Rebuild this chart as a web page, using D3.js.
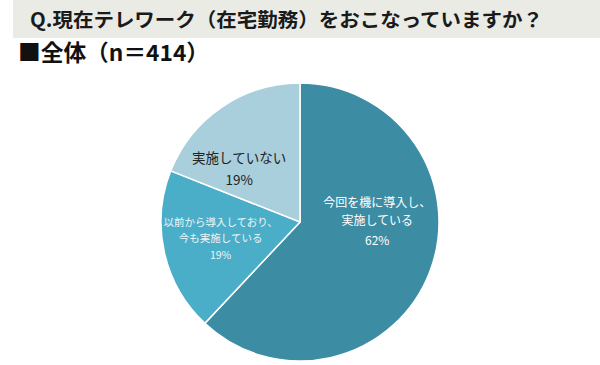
<!DOCTYPE html>
<html><head><meta charset="utf-8">
<script src="https://cdn.jsdelivr.net/npm/d3@7"></script>
<style>body{margin:0;background:#fff}svg{display:block}</style>
</head><body><svg id="c" width="600" height="365"></svg>
<script>
const title = "Q.現在テレワーク（在宅勤務）をおこなっていますか？";
const subtitle = "■全体（n＝414）";
const categories = ["今回を機に導入し、\n実施している", "以前から導入しており、\n今も実施している", "実施していない"];
const values = [62, 19, 19];
const colors = ["#3c8ca3", "#4baec8", "#a9cfdc"];

const svg = d3.select("#c");
const font = "'Noto Sans CJK JP','Noto Sans',sans-serif";
svg.append("rect").attr("x",13).attr("y",0).attr("width",587).attr("height",38).attr("fill","#ebebe6");
svg.append("text").attr("x",30).attr("y",27).attr("font-family",font).attr("font-weight","bold").attr("font-size",19.5)
  .attr("textLength",513).attr("lengthAdjust","spacingAndGlyphs").attr("fill","#1a1a1a").text(title);
svg.append("text").attr("x",18).attr("y",61).attr("font-family",font).attr("font-weight","bold").attr("font-size",22.5)
  .attr("textLength",191).attr("lengthAdjust","spacingAndGlyphs").attr("fill","#111").text(subtitle);

const cx = 300, cy = 222, r = 139;
const pie = d3.pie().sort(null).value(d=>d)(values);
const arc = d3.arc().innerRadius(0).outerRadius(r);
const g = svg.append("g").attr("transform",`translate(${cx},${cy})`);
g.selectAll("path").data(pie).join("path").attr("d",arc)
  .attr("fill",(d,i)=>colors[i]).attr("stroke","#fff").attr("stroke-width",1.5);

// label layout: radial factor, offsets, font size, line height, gap to percentage
const labelCfg = [
  {r:0.52, dx:10, dy:-27, size:12, fill:"#fff", lh:18, pctGap:20},
  {r:0.6, dx:2, dy:-1.5, size:10.5, fill:"#eef4f6", lh:16, pctGap:17},
  {r:0.6, dx:-14, dy:16, size:13.5, fill:"#222", lh:22, pctGap:22}
];
pie.forEach((d,i)=>{
  const c = labelCfg[i];
  const a = (d.startAngle+d.endAngle)/2;
  const x = Math.sin(a)*r*c.r + c.dx, y = -Math.cos(a)*r*c.r + c.dy;
  const lines = categories[i].split("\n");
  const t = g.append("g").attr("font-family",font).attr("fill",c.fill).attr("text-anchor","middle");
  const n = lines.length;
  const total = (n-1)*c.lh + c.pctGap;
  const y0 = y - total/2;
  lines.forEach((l,k)=>t.append("text").attr("x",x).attr("y",y0+k*c.lh).attr("dy","0.36em").attr("font-size",c.size).text(l));
  t.append("text").attr("x",x).attr("y",y0+(n-1)*c.lh+c.pctGap).attr("dy","0.36em").attr("font-size",c.size).text(values[i]+"%");
});
</script></body></html>
